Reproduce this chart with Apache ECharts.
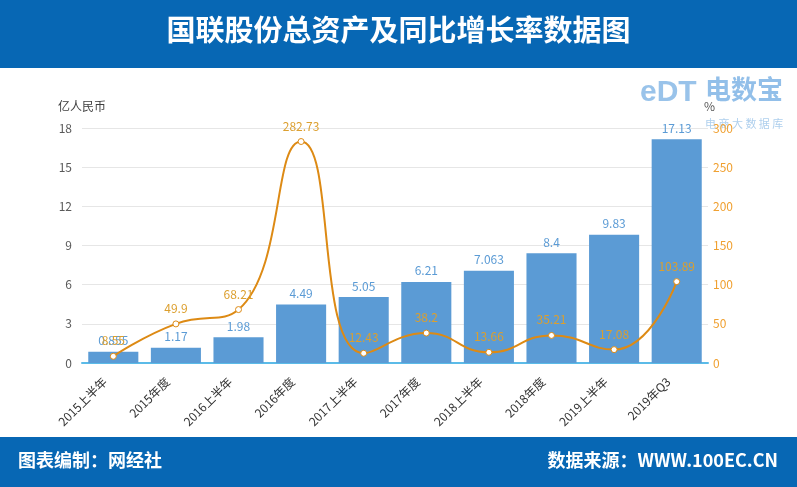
<!DOCTYPE html>
<html><head><meta charset="utf-8">
<script src="https://cdn.jsdelivr.net/npm/echarts@6/dist/echarts.min.js"></script>
<style>html,body{margin:0;padding:0;background:#fff}#c{width:797px;height:487px}</style>
</head><body><div id="c"></div>
<script>
const categories = ['2015上半年','2015年度','2016上半年','2016年度','2017上半年','2017年度','2018上半年','2018年度','2019上半年','2019年Q3'];
const totalAssets = [0.855, 1.17, 1.98, 4.49, 5.05, 6.21, 7.063, 8.4, 9.83, 17.13];
const growthRate = [8.55, 49.9, 68.21, 282.73, 12.43, 38.2, 13.66, 35.21, 17.08, 103.89];
const leftTicks = {min: 0, max: 18, interval: 3};
const rightTicks = {min: 0, max: 300, interval: 50};

const chart = echarts.init(document.getElementById('c'));
const F = '"Microsoft YaHei","Noto Sans CJK SC",sans-serif';
chart.setOption({
  animation: false,
  textStyle: {fontFamily: F},
  graphic: [
    {type:'rect', left:0, top:0, shape:{width:797, height:68}, style:{fill:'#0767b4'}},
    {type:'text', left:'center', top:15, style:{text:'国联股份总资产及同比增长率数据图', fill:'#fff', font:'bold 29px "Noto Sans CJK SC",sans-serif'}},
    {type:'rect', left:0, top:437, shape:{width:797, height:50}, style:{fill:'#0767b4'}},
    {type:'text', left:18, top:451, style:{text:'图表编制：网经社', fill:'#fff', font:'bold 18px "Noto Sans CJK SC",sans-serif'}},
    {type:'text', right:19, top:451, style:{text:'数据来源：WWW.100EC.CN', fill:'#fff', font:'bold 18px "Noto Sans CJK SC",sans-serif'}},
    {type:'text', left:705, top:76, style:{text:'电数宝', fill:'rgba(110,170,225,0.75)', font:'bold 26px "Noto Sans CJK SC",sans-serif'}},
    {type:'text', left:705, top:118, style:{text:'电 商 大 数 据 库', fill:'rgba(120,175,225,0.6)', font:'11px "Noto Sans CJK SC",sans-serif'}},
    {type:'text', left:640, top:78, style:{text:'eDT', fill:'rgba(110,170,225,0.7)', font:'bold 30px sans-serif'}}
  ],
  grid: {left: 82, right: 89, top: 128, bottom: 124},
  xAxis: {
    type: 'category', data: categories,
    axisLine: {lineStyle: {color: '#5bbbe8', width: 2}},
    axisTick: {show: false},
    axisLabel: {rotate: 45, color: '#333', fontSize: 12, interval: 0, margin: 8, padding: [0, 12, 0, 0]}
  },
  yAxis: [
    {type:'value', min:leftTicks.min, max:leftTicks.max, interval:leftTicks.interval,
     name:'亿人民币', nameLocation:'end', nameGap:16, nameTextStyle:{color:'#404040', fontSize:12, align:'right', padding:[0,-24,0,0]},
     axisLine:{show:false}, axisTick:{show:false},
     axisLabel:{color:'#595959', fontSize:12, margin:10},
     splitLine:{lineStyle:{color:'#e6e6e6'}}},
    {type:'value', min:rightTicks.min, max:rightTicks.max, interval:rightTicks.interval,
     name:'%', nameLocation:'end', nameGap:16, nameTextStyle:{color:'#555', fontSize:12, align:'left', padding:[0,0,0,-4]},
     axisLine:{show:false}, axisTick:{show:false},
     axisLabel:{color:'#f0a030', fontSize:12, margin:5},
     splitLine:{show:false}}
  ],
  series: [
    {type:'bar', data: totalAssets, barCategoryGap:'20%', yAxisIndex:0,
     itemStyle:{color:'#5b9bd5'},
     label:{show:true, position:'top', color:'#5b9bd5', fontSize:12, distance:5}},
    {type:'line', data: growthRate, yAxisIndex:1, smooth:0.5,
     lineStyle:{color:'#dd8a14', width:2},
     itemStyle:{color:'#fff', borderColor:'#dd8a14', borderWidth:1},
     symbol:'circle', symbolSize:6,
     label:{show:true, position:'top', color:'#dc9f2e', fontSize:12, distance:6}}
  ]
});
</script></body></html>
